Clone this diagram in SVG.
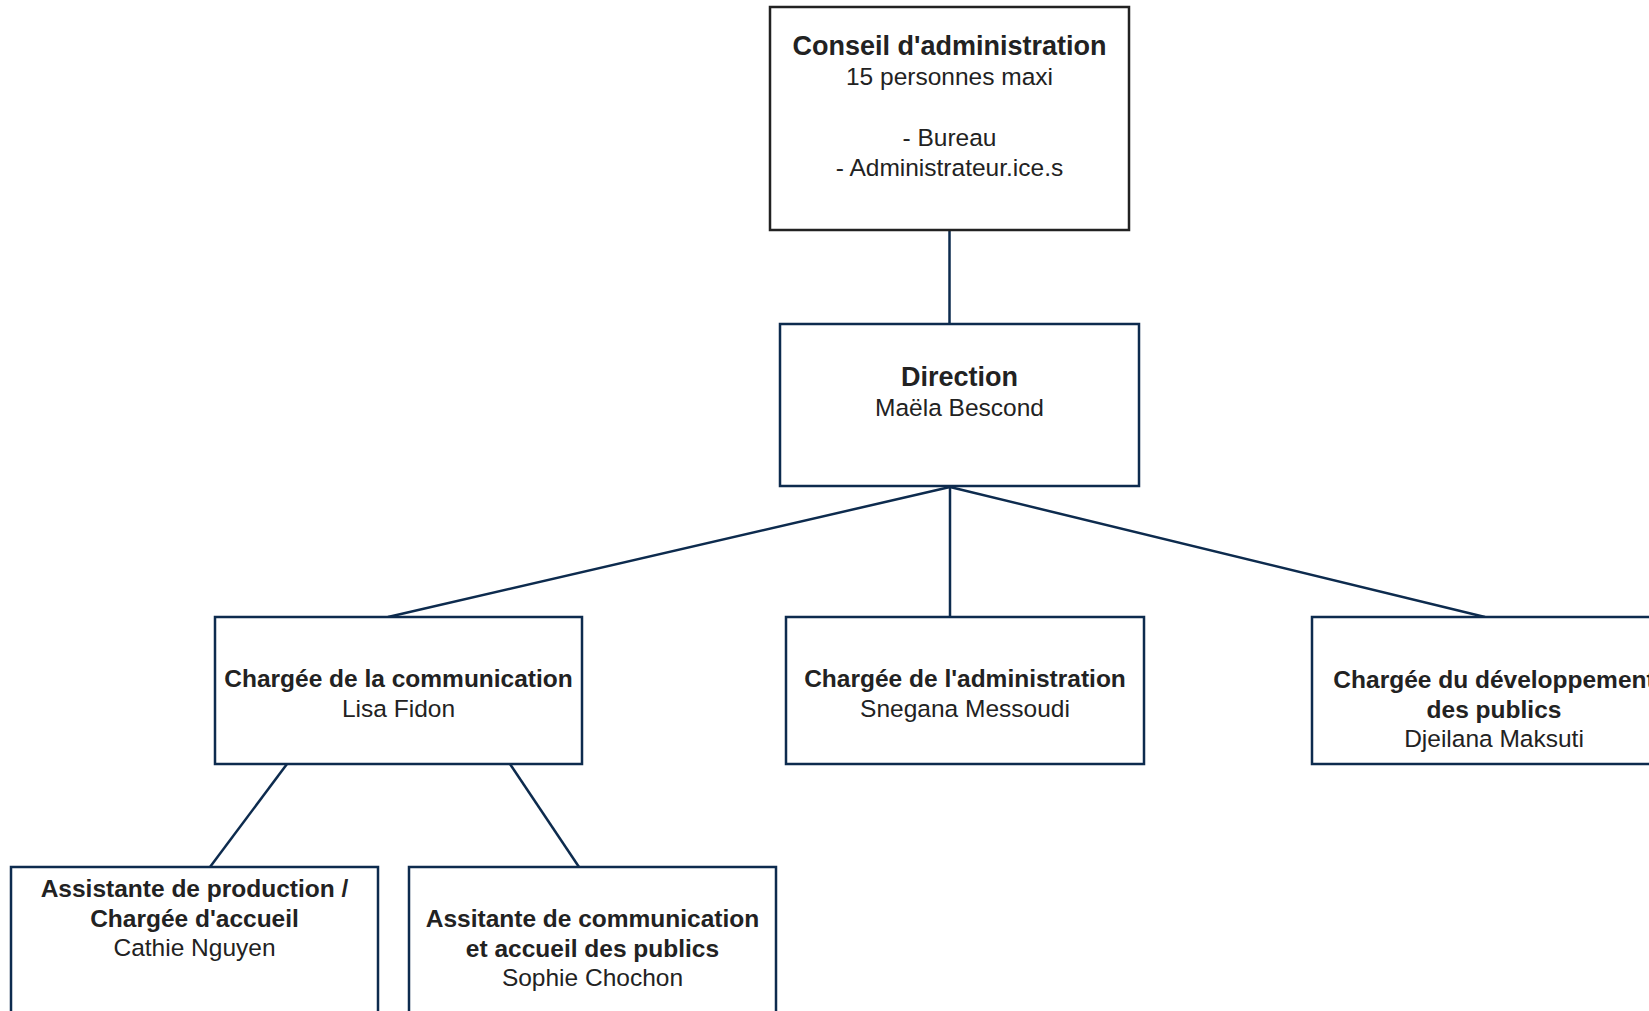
<svg xmlns="http://www.w3.org/2000/svg" width="1649" height="1011" viewBox="0 0 1649 1011">
<style>
.box{fill:#fff;stroke:#0d2b4e;stroke-width:2.5}
.box0{fill:#fff;stroke:#222;stroke-width:2.5}
.conn line{stroke:#0d2b4e;stroke-width:2.5}
text{font-family:"Liberation Sans",Arial,sans-serif;fill:#222;text-anchor:middle}
.tb{font-weight:bold;font-size:24.5px}
.tbl{font-weight:bold;font-size:27px}
.tr{font-size:24.5px}
</style>
<rect width="1649" height="1011" fill="#fff"/>
<g class="conn">
<line x1="949.5" y1="231" x2="949.5" y2="324"/>
<line x1="950" y1="487" x2="388" y2="617"/>
<line x1="950" y1="487" x2="950" y2="617"/>
<line x1="950" y1="487" x2="1485" y2="617"/>
<line x1="287" y1="764" x2="210" y2="867"/>
<line x1="510" y1="764" x2="579" y2="867"/>
</g>
<g id="conseil">
<rect class="box0" x="770" y="7" width="359" height="223"/>
<text class="tbl" x="949.5" y="55">Conseil d'administration</text>
<text class="tr" x="949.5" y="85">15 personnes maxi</text>
<text class="tr" x="949.5" y="146">- Bureau</text>
<text class="tr" x="949.5" y="176">- Administrateur.ice.s</text>
</g>
<g id="direction">
<rect class="box" x="780" y="324" width="359" height="162"/>
<text class="tbl" x="959.5" y="386">Direction</text>
<text class="tr" x="959.5" y="416">Maëla Bescond</text>
</g>
<g id="communication">
<rect class="box" x="215" y="617" width="367" height="147"/>
<text class="tb" x="398.5" y="687">Chargée de la communication</text>
<text class="tr" x="398.5" y="717">Lisa Fidon</text>
</g>
<g id="administration">
<rect class="box" x="786" y="617" width="358" height="147"/>
<text class="tb" x="965" y="687">Chargée de l'administration</text>
<text class="tr" x="965" y="717">Snegana Messoudi</text>
</g>
<g id="developpement">
<rect class="box" x="1312" y="617" width="364" height="147"/>
<text class="tb" x="1494" y="688">Chargée du développement</text>
<text class="tb" x="1494" y="718">des publics</text>
<text class="tr" x="1494" y="747">Djeilana Maksuti</text>
</g>
<g id="assistante-production">
<rect class="box" x="11" y="867" width="367" height="160"/>
<text class="tb" x="194.5" y="897">Assistante de production /</text>
<text class="tb" x="194.5" y="927">Chargée d'accueil</text>
<text class="tr" x="194.5" y="956">Cathie Nguyen</text>
</g>
<g id="assistante-communication">
<rect class="box" x="409" y="867" width="367" height="160"/>
<text class="tb" x="592.5" y="927">Assitante de communication</text>
<text class="tb" x="592.5" y="957">et accueil des publics</text>
<text class="tr" x="592.5" y="986">Sophie Chochon</text>
</g>
</svg>
